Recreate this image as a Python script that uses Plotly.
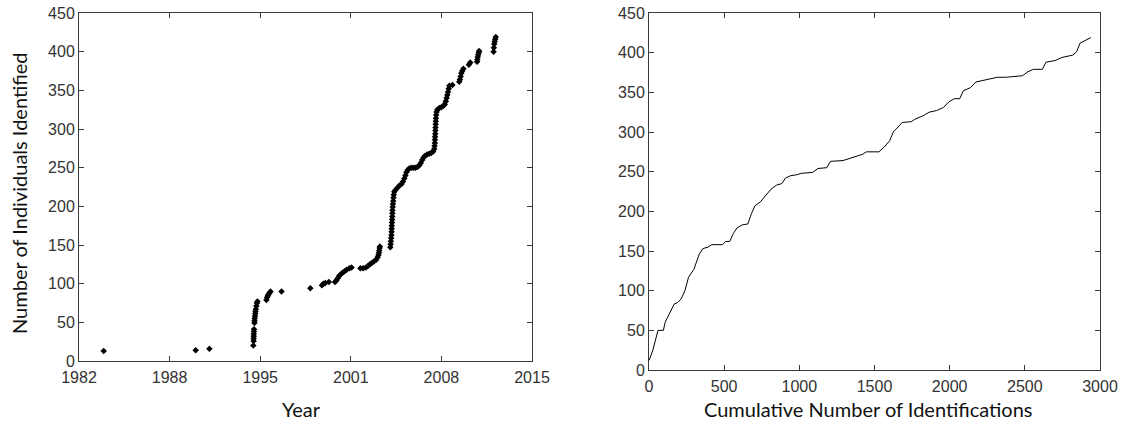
import plotly.graph_objects as go

# Left panel: date each new individual was first identified vs running total
id_year = [
    1983.8, 1990.5, 1991.5,
    1994.70, 1994.72, 1994.72, 1994.73, 1994.73, 1994.74, 1994.75, 1994.78, 1994.79,
    1994.80, 1994.82, 1994.84, 1994.86, 1994.88, 1994.92, 1994.96, 1995.00,
    1995.65, 1995.70, 1995.75, 1995.80, 1995.88, 1995.95,
    1996.75, 1998.85,
    1999.70, 1999.80, 1999.95, 2000.20,
    2000.65, 2000.75, 2000.85, 2000.95, 2001.05, 2001.20, 2001.35, 2001.50, 2001.70, 2001.85,
    2002.50, 2002.70, 2002.90, 2003.05, 2003.20, 2003.35, 2003.50, 2003.65, 2003.75,
    2003.82, 2003.85, 2003.87, 2003.90, 2003.92,
    2004.68, 2004.70, 2004.72, 2004.74, 2004.76, 2004.77, 2004.78, 2004.79, 2004.80,
    2004.81, 2004.82, 2004.83, 2004.84, 2004.85, 2004.87, 2004.89, 2004.91, 2004.93, 2004.97,
    2005.05, 2005.20, 2005.35, 2005.50, 2005.60, 2005.70, 2005.78, 2005.85, 2005.95,
    2006.05, 2006.20, 2006.35, 2006.50, 2006.65, 2006.80, 2006.90, 2007.00, 2007.10,
    2007.20, 2007.35, 2007.50, 2007.65, 2007.80,
    2007.88, 2007.90, 2007.92, 2007.93, 2007.94, 2007.95, 2007.96, 2007.97, 2007.98,
    2007.99, 2008.00, 2008.02, 2008.05, 2008.10,
    2008.25, 2008.40, 2008.55, 2008.65, 2008.72, 2008.78, 2008.83, 2008.88, 2008.93,
    2008.98, 2009.20,
    2009.70, 2009.75, 2009.80, 2009.85, 2009.92, 2010.00,
    2010.40, 2010.50,
    2011.00, 2011.02, 2011.05, 2011.08, 2011.12, 2011.15,
    2012.20, 2012.22, 2012.25, 2012.28, 2012.32, 2012.36,
]
id_count = [
    13, 14, 16,
    20, 26, 29, 32, 35, 38, 41, 49, 52,
    55, 58, 61, 64, 67, 71, 75, 77,
    79, 82, 84, 86, 88, 90,
    90, 94,
    98, 100, 101, 102,
    102, 104, 107, 110, 112, 114, 116, 118, 120, 121,
    120, 120, 121, 123, 125, 127, 129, 131, 134,
    137, 140, 143, 146, 148,
    147, 151, 155, 159, 163, 167, 171, 175, 179,
    183, 187, 191, 195, 199, 203, 207, 211, 215, 219,
    221, 224, 227, 229, 232, 236, 240, 244, 247,
    249, 250, 250, 250, 251, 253, 256, 260, 263,
    265, 267, 268, 269, 271,
    274, 278, 282, 286, 290, 294, 298, 302, 306,
    310, 314, 318, 322, 325,
    327, 328, 330, 332, 336, 340, 344, 348, 352,
    356, 357,
    361, 364, 368, 372, 375, 378,
    383, 386,
    387, 390, 393, 396, 399, 401,
    400, 405, 410, 413, 416, 419,
]

# Right panel: discovery curve, individuals vs cumulative identifications
cum_ids = [
    0, 24, 60, 96, 107, 143, 167, 191, 215, 239, 263, 299, 334, 358, 394, 418, 490,
    509, 537, 561, 585, 621, 657, 681, 705, 741, 777, 812, 848, 884, 908, 944, 980,
    1016, 1088, 1124, 1183, 1207, 1291, 1350, 1422, 1446, 1529, 1565, 1601, 1625,
    1661, 1685, 1744, 1768, 1828, 1864, 1912, 1959, 1995, 2031, 2067, 2091, 2139,
    2174, 2222, 2270, 2318, 2377, 2449, 2485, 2521, 2557, 2617, 2640, 2700, 2748,
    2820, 2844, 2867, 2903, 2939,
]
cum_individuals = [
    12, 24, 50, 50, 60, 73, 83, 85, 90, 100, 117, 127, 146, 153, 155, 158, 158,
    162, 162, 172, 179, 183, 184, 197, 207, 212, 220, 228, 233, 235, 242, 245, 246,
    248, 249, 254, 255, 263, 264, 268, 272, 275, 275, 281, 289, 300,
    308, 312, 313, 316, 321, 325, 327, 331, 338, 342, 342, 352, 356,
    363, 365, 367, 369, 369, 370, 371, 376, 379, 379, 388, 390, 394,
    397, 401, 412, 415, 419,
]

# Year axis spans 1982-2015 in five equal steps; labels show the whole year
year_tickvals = [1982, 1988.6, 1995.2, 2001.8, 2008.4, 2015]
year_ticktext = ["1982", "1988", "1995", "2001", "2008", "2015"]
count_ticks = [0, 50, 100, 150, 200, 250, 300, 350, 400, 450]
ident_ticks = [0, 500, 1000, 1500, 2000, 2500, 3000]

W, H = 1125, 423

fig = go.Figure()
fig.add_trace(go.Scatter(
    x=id_year, y=id_count, mode="markers",
    marker=dict(symbol="diamond", size=5, color="black", line=dict(width=0)),
    xaxis="x", yaxis="y", showlegend=False, hoverinfo="skip",
))
fig.add_trace(go.Scatter(
    x=cum_ids, y=cum_individuals, mode="lines",
    line=dict(color="black", width=1),
    xaxis="x2", yaxis="y2", showlegend=False, hoverinfo="skip",
))

tick_font = dict(family="Liberation Sans", size=16, color="#333333")
axis_common = dict(
    showline=True, linecolor="#3a3a3a", linewidth=1, mirror="ticks",
    ticks="inside", ticklen=5, tickwidth=1, tickcolor="#3a3a3a",
    showgrid=False, zeroline=False, tickfont=tick_font, fixedrange=True,
    automargin=False,
)

def px_x(p):
    return p / W

def px_y(p):
    return 1 - p / H

fig.update_layout(
    width=W, height=H,
    margin=dict(l=0, r=0, t=0, b=0, autoexpand=False),
    paper_bgcolor="white", plot_bgcolor="white",
    xaxis=dict(domain=[px_x(79), px_x(532)], range=[1982, 2015],
               tickvals=year_tickvals, ticktext=year_ticktext, anchor="y",
               ticklabelstandoff=2, **axis_common),
    yaxis=dict(domain=[px_y(361), px_y(13)], range=[0, 450],
               tickvals=count_ticks, anchor="x", **axis_common),
    xaxis2=dict(domain=[px_x(649), px_x(1100)], range=[0, 3000],
                tickvals=ident_ticks, anchor="y2", ticklabelstandoff=2,
                **axis_common),
    yaxis2=dict(domain=[px_y(370), px_y(13)], range=[0, 450],
                tickvals=count_ticks, anchor="x2", **axis_common),
)

title_font = dict(family="Lato", size=20, color="#111111")
fig.add_annotation(text="Year", x=px_x(301), y=px_y(409), xref="paper", yref="paper",
                   showarrow=False, font=title_font, xanchor="center", yanchor="middle")
fig.add_annotation(text="Cumulative Number of Identifications", x=px_x(868), y=px_y(409),
                   xref="paper", yref="paper", showarrow=False, font=title_font,
                   xanchor="center", yanchor="middle")
fig.add_annotation(text="Number of Individuals Identified", x=px_x(19), y=px_y(194),
                   xref="paper", yref="paper", showarrow=False, font=title_font,
                   textangle=-90, xanchor="center", yanchor="middle")

fig.write_html("out.html")
